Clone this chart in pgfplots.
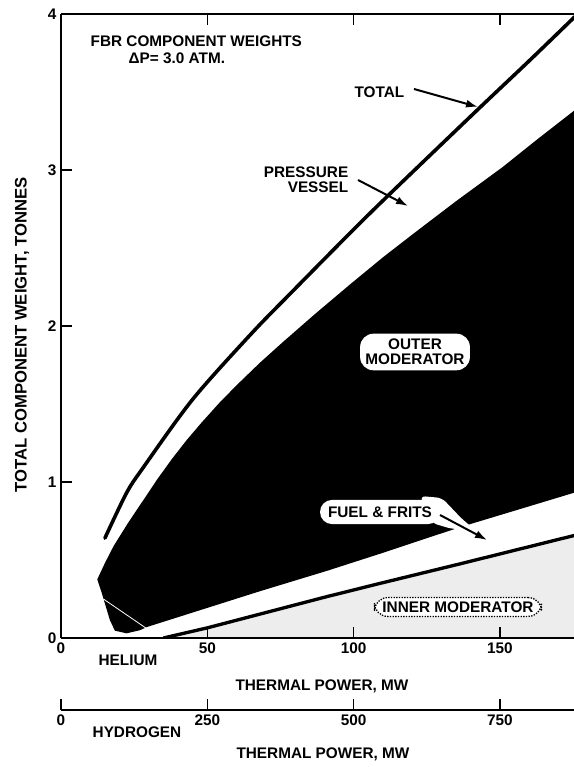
\documentclass[border=0pt]{standalone}
\usepackage{pgfplots}
\pgfplotsset{compat=1.18}
\usepackage{fontspec}
\setmainfont{Liberation Sans}
\usetikzlibrary{arrows.meta}
\newcommand{\lab}{\fontsize{11.5}{13}\selectfont\bfseries}
\begin{document}
\begin{tikzpicture}[x=0.75pt,y=0.75pt]
\begin{axis}[
  at={(45.75pt,96.75pt)}, anchor=south west,
  scale only axis, width=384.75pt, height=468pt,
  xmin=0, xmax=175.3, ymin=0, ymax=4,
  axis x line*=box, axis y line*=left,
  axis line style={-, line width=1.5pt},
  axis on top,
  xtick={0,50,100,150}, ytick={0,1,2,3,4},
  tick align=inside, major tick length=8pt,
  tick style={line width=1.2pt, black},
  /pgf/number format/assume math mode=true,
  ticklabel style={font=\lab},
]
% inner moderator
\addplot[fill=black!7, draw=none] coordinates {(35,0) (50,0.065) (90.8,0.265) (109,0.35) (136.3,0.475) (176,0.66)} \closedcycle;
\addplot[black, line width=2.5pt] coordinates {(35,0) (50,0.065) (90.8,0.265) (109,0.35) (136.3,0.475) (176,0.66)};
% outer moderator (black)
\addplot[fill=black, draw=none] coordinates {
 (12.4,0.376) (15,0.48) (18,0.59) (23,0.74) (28,0.88) (33,1.02) (38,1.15) (43,1.27) (48,1.38) (54,1.505) (60,1.62) (68,1.765) (76,1.90)
 (87,2.08) (99,2.27) (110,2.44) (121,2.60) (135,2.80) (151,3.02) (163,3.20) (176,3.39)
 (176,0.935) (136.3,0.71) (109,0.54) (90.8,0.43) (68,0.30) (29.3,0.07) (27,0.05) (22.4,0.03)
 (18.4,0.047) (16.7,0.115) (13.9,0.29) (12.4,0.376)};
\addplot[white, line width=0.6pt] coordinates {(14.5,0.25) (29.3,0.06)};
% total
\addplot[black, line width=2.7pt, line cap=round, smooth, tension=0.5] coordinates {
 (15,0.64) (22.4,0.93) (28,1.09) (45,1.53) (65,1.95) (79,2.22)
 (99,2.60) (112,2.84) (142,3.38) (160,3.70) (176,3.99)};
\end{axis}
% hydrogen axis
\begin{axis}[
  at={(45.75pt,42.75pt)}, anchor=south west,
  scale only axis, width=384.75pt, height=20pt,
  xmin=0, xmax=876.5, ymin=0, ymax=1,
  axis x line*=bottom, hide y axis,
  axis line style={-, line width=1.5pt},
  xtick={0,250,500,750},
  tick align=inside, major tick length=8pt,
  tick style={line width=1.2pt, black},
  /pgf/number format/assume math mode=true,
  ticklabel style={font=\lab},
]
\end{axis}
% titles and labels
\node[anchor=west, font=\lab] at (86,726) {FBR COMPONENT WEIGHTS};
\node[anchor=west, font=\lab] at (124,709) {ΔP= 3.0 ATM.};
\node[anchor=east, font=\lab] at (409,675) {TOTAL};
\draw[line width=1.5pt, -{Latex[length=9pt,width=6pt]}] (414,678) -- (478,660);
\node[anchor=east, align=right, font=\fontsize{11.5}{11.3}\selectfont\bfseries] at (353,587) {PRESSURE\\VESSEL};
\draw[line width=1.5pt, -{Latex[length=9pt,width=6pt]}] (358,587) -- (408,561);
\node[fill=white, rounded corners=10pt, inner sep=4pt, align=center, font=\fontsize{11.5}{11.3}\selectfont\bfseries] at (415,415) {OUTER\\MODERATOR};
\fill[white, rounded corners=4pt] (420,271) -- (442,269) -- (462,248) -- (474,238) -- (452,238) -- (432,244) -- cycle;
\node[fill=white, rounded corners=9pt, inner xsep=6pt, inner ysep=5pt, font=\lab] at (380,255) {FUEL \& FRITS};
\draw[line width=1.5pt, -{Latex[length=9pt,width=6pt]}] (440,252) -- (487,227);
\node[draw, densely dotted, line width=1pt, rounded corners=10pt, fill=white, inner xsep=6pt, inner ysep=3pt, font=\lab] at (458,160) {INNER MODERATOR};
\node[rotate=90, font=\fontsize{12.5}{14}\selectfont\bfseries] at (22,432) {TOTAL COMPONENT WEIGHT, TONNES};
\node[font=\lab] at (128,107) {HELIUM};
\node[font=\lab] at (322,81) {THERMAL POWER, MW};
\node[font=\lab] at (137,35) {HYDROGEN};
\node[font=\lab] at (323,13) {THERMAL POWER, MW};
\pgfresetboundingbox
\useasboundingbox (0,0) rectangle (574,767);
\end{tikzpicture}
\end{document}
